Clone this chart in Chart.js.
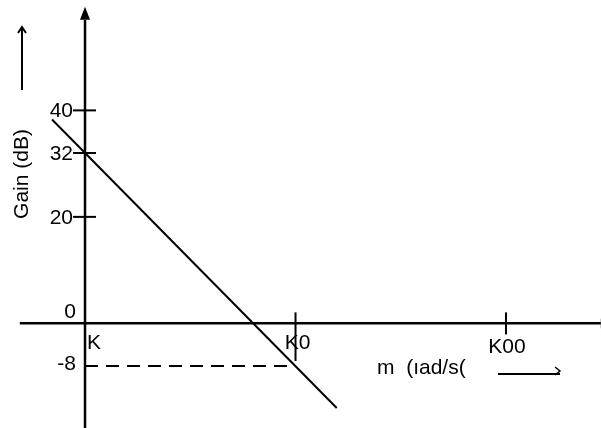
<!DOCTYPE html>
<html>
<head>
<meta charset="utf-8">
<script src="https://cdn.jsdelivr.net/npm/chart.js@4/dist/chart.umd.min.js"></script>
<style>
  html, body { margin: 0; padding: 0; background: #fff; }
  #wrap { width: 601px; height: 428px; position: relative; }
</style>
</head>
<body>
<div id="wrap"><canvas id="bode"></canvas></div>
<script>
// frequency axis (rad/s), tick labels as printed in the picture
const freqTicks = [1, 10, 100];
const freqLabels = ['K', 'K0', 'K00'];
// gain axis (dB)
const gainTicks = [40, 32, 20];
const gainLabels = ['40', '32', '20'];
const zeroLabel = '0';
const markGain = -8;
const markLabel = '-8';
const markFreq = 10;
// asymptote, -40 dB/decade through 32 dB at w = 1
const lineFreq = [0.697, 15.7];
const lineGain = [38.3, -15.9];
// axis extents
const xAxisFreq = [0.49, 282];
const yAxisGain = [-20, 57];

const font = "21px 'Liberation Sans', Arial, sans-serif";

const overlay = {
  id: 'overlay',
  afterDatasetsDraw(chart) {
    const c = chart.ctx;
    const xs = chart.scales.x, ys = chart.scales.y;
    const x0 = xs.getPixelForValue(1), y0 = ys.getPixelForValue(0);
    c.save();
    c.strokeStyle = '#000';
    c.fillStyle = '#000';

    // arrow heads of the axes
    const yTop = ys.getPixelForValue(yAxisGain[1]);
    c.beginPath();
    c.moveTo(x0, yTop - 13); c.lineTo(x0 - 5, yTop); c.lineTo(x0 + 5, yTop);
    c.closePath(); c.fill();
    const xEnd = xs.getPixelForValue(xAxisFreq[1]);
    c.beginPath();
    c.moveTo(xEnd + 10, y0); c.lineTo(xEnd, y0 - 5); c.lineTo(xEnd, y0 + 5);
    c.closePath(); c.fill();

    // gain tick marks and labels
    c.lineWidth = 2;
    c.font = font;
    c.textAlign = 'right';
    c.textBaseline = 'middle';
    gainTicks.forEach((g, i) => {
      const py = ys.getPixelForValue(g);
      c.beginPath(); c.moveTo(x0 - 12, py); c.lineTo(x0 + 11, py); c.stroke();
      c.fillText(gainLabels[i], x0 - 12, py + 1);
    });
    c.fillText(zeroLabel, x0 - 9, y0 - 11);
    c.fillText(markLabel, x0 - 9, ys.getPixelForValue(markGain) - 2);

    // frequency tick marks and labels
    freqTicks.forEach((f, i) => {
      const px = xs.getPixelForValue(f);
      if (i > 0) {
        const bottom = f === markFreq ? ys.getPixelForValue(markGain) - 5 : y0 + 11;
        c.beginPath(); c.moveTo(px, y0 - 11); c.lineTo(px, bottom); c.stroke();
      }
      c.textAlign = i === 0 ? 'left' : 'center';
      c.textBaseline = 'middle';
      const tx = i === 0 ? px + 2 : (i === 1 ? px + 2 : px + 1);
      c.fillText(freqLabels[i], tx, y0 + (i === 2 ? 24 : 20));
    });

    // axis titles
    c.save();
    c.translate(22, 174);
    c.rotate(-Math.PI / 2);
    c.textAlign = 'center';
    c.textBaseline = 'middle';
    c.fillText('Gain (dB)', 0, 0);
    c.restore();
    c.lineWidth = 2;
    c.beginPath(); c.moveTo(22, 90); c.lineTo(22, 28); c.stroke();
    c.beginPath(); c.moveTo(18, 33); c.lineTo(22, 27); c.lineTo(26, 33); c.stroke();

    c.textAlign = 'left';
    c.textBaseline = 'middle';
    c.fillText('m  (\u0131ad/s(', 377, 368);
    c.beginPath(); c.moveTo(498, 374); c.lineTo(560, 374); c.stroke();
    c.lineWidth = 1.5;
    c.beginPath(); c.moveTo(555, 367); c.lineTo(560, 371); c.lineTo(555, 375); c.stroke();
    c.restore();
  }
};

new Chart(document.getElementById('bode'), {
  type: 'scatter',
  data: {
    datasets: [
      {
        data: [{ x: xAxisFreq[0], y: 0 }, { x: xAxisFreq[1], y: 0 }],
        showLine: true, borderColor: '#000', borderWidth: 2.5, pointRadius: 0
      },
      {
        data: [{ x: 1, y: yAxisGain[0] }, { x: 1, y: yAxisGain[1] }],
        showLine: true, borderColor: '#000', borderWidth: 2.5, pointRadius: 0
      },
      {
        data: lineFreq.map((f, i) => ({ x: f, y: lineGain[i] })),
        showLine: true, borderColor: '#000', borderWidth: 2, pointRadius: 0
      },
      {
        data: [{ x: 1, y: markGain }, { x: markFreq, y: markGain }],
        showLine: true, borderColor: '#000', borderWidth: 2, pointRadius: 0,
        borderDash: [13, 8]
      }
    ]
  },
  options: {
    responsive: true,
    maintainAspectRatio: false,
    animation: false,
    layout: { padding: 0 },
    plugins: { legend: { display: false }, tooltip: { enabled: false } },
    scales: {
      x: { type: 'logarithmic', min: 0.3946, max: 282.6, display: false },
      y: { type: 'linear', min: -19.65, max: 60.73, display: false }
    }
  },
  plugins: [overlay]
});
</script>
</body>
</html>
